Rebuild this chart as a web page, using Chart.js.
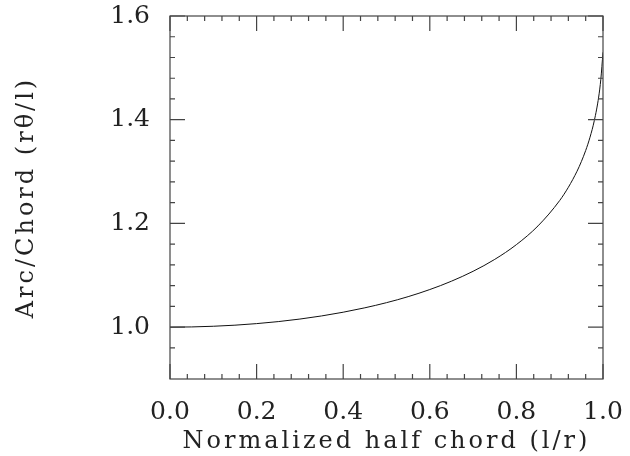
<!DOCTYPE html>
<html>
<head>
<meta charset="utf-8">
<script src="https://cdn.jsdelivr.net/npm/chart.js"></script>
<style>
  html, body { margin: 0; padding: 0; background: #fff; }
  #wrap { width: 630px; height: 456px; }
</style>
</head>
<body>
<div id="wrap"><canvas id="arcChart"></canvas></div>
<script>
// half chord l/r
var halfChord = [0, 0.05, 0.1, 0.15, 0.2, 0.25, 0.3, 0.35, 0.4, 0.45, 0.5, 0.55, 0.6, 0.65,
  0.7, 0.75, 0.8, 0.85, 0.9, 0.92, 0.94, 0.95, 0.96, 0.97, 0.98, 0.99, 0.995, 1.0];
// arc / chord
var arcOverChord = [1.000, 1.0004, 1.0017, 1.0038, 1.0068, 1.0107, 1.0156, 1.0216, 1.0288, 1.0373,
  1.0472, 1.0588, 1.0725, 1.0886, 1.1077, 1.1307, 1.1591, 1.1953, 1.2442, 1.2697, 1.3006,
  1.3192, 1.3406, 1.3662, 1.3985, 1.4437, 1.4781, 1.530];
var xTicks = [0, 0.2, 0.4, 0.6, 0.8, 1.0];
var yTicks = [1.0, 1.2, 1.4, 1.6];
var xMinorStep = 0.04;
var yMinorStep = 0.04;

var points = halfChord.map(function (v, i) { return { x: v, y: arcOverChord[i] }; });

// frame with inward ticks on all four sides
var frameTicks = {
  id: 'frameTicks',
  afterDatasetsDraw: function (chart) {
    var ctx = chart.ctx, a = chart.chartArea, xs = chart.scales.x, ys = chart.scales.y;
    ctx.save();
    ctx.strokeStyle = '#444';
    ctx.lineWidth = 1.2;
    ctx.strokeRect(a.left, a.top, a.right - a.left, a.bottom - a.top);
    ctx.beginPath();
    function xt(v, len) {
      var px = xs.getPixelForValue(v);
      ctx.moveTo(px, a.bottom); ctx.lineTo(px, a.bottom - len);
      ctx.moveTo(px, a.top); ctx.lineTo(px, a.top + len);
    }
    function yt(v, len) {
      var py = ys.getPixelForValue(v);
      ctx.moveTo(a.left, py); ctx.lineTo(a.left + len, py);
      ctx.moveTo(a.right, py); ctx.lineTo(a.right - len, py);
    }
    for (var i = 1; i < 25; i++) xt(i * xMinorStep, 5);
    for (var j = 1; j < 18; j++) yt(0.9 + j * yMinorStep + 0.02, 5);
    xTicks.forEach(function (v) { xt(v, 15); });
    yTicks.forEach(function (v) { yt(v, 15); });
    ctx.stroke();
    ctx.restore();
  }
};

// wider letter spacing for the axis titles
function spacedTitle(s) {
  if (s._spaced) return;
  s._spaced = true;
  var orig = s.drawTitle;
  s.drawTitle = function () {
    var ctx = this.ctx;
    ctx.save();
    ctx.letterSpacing = '3px';
    orig.apply(this, arguments);
    ctx.restore();
  };
}

new Chart(document.getElementById('arcChart'), {
  type: 'line',
  data: {
    datasets: [{
      data: points,
      borderColor: '#111',
      borderWidth: 1,
      pointRadius: 0,
      cubicInterpolationMode: 'monotone',
      fill: false
    }]
  },
  options: {
    responsive: true,
    maintainAspectRatio: false,
    animation: false,
    events: [],
    layout: { padding: { top: 16, right: 27, left: 0, bottom: 0 } },
    plugins: { legend: { display: false }, tooltip: { enabled: false } },
    scales: {
      x: {
        type: 'linear',
        min: 0, max: 1,
        grid: { display: false },
        border: { display: false },
        afterBuildTicks: function (s) { s.ticks = xTicks.map(function (v) { return { value: v }; }); },
        afterFit: function (s) {
          s.height = 77; s.paddingLeft = 0; s.paddingRight = 0;
          spacedTitle(s);
        },
        ticks: {
          padding: 10,
          color: '#222',
          font: { family: "'DejaVu Serif'", size: 25 },
          callback: function (v) { return Number(v).toFixed(1); }
        },
        title: {
          display: true,
          text: 'Normalized half chord (l/r)',
          color: '#222',
          padding: { top: 0, bottom: 0 },
          font: { family: "'DejaVu Serif'", size: 24 }
        }
      },
      y: {
        type: 'linear',
        min: 0.9, max: 1.6,
        grid: { display: false },
        border: { display: false },
        afterBuildTicks: function (s) { s.ticks = yTicks.map(function (v) { return { value: v }; }); },
        afterFit: function (s) {
          s.width = 170; s.paddingTop = 0; s.paddingBottom = 0;
          spacedTitle(s);
        },
        ticks: {
          padding: 12,
          color: '#222',
          font: { family: "'DejaVu Serif'", size: 25 },
          callback: function (v) { return Number(v).toFixed(1); }
        },
        title: {
          display: true,
          text: 'Arc/Chord (rθ/l)',
          color: '#222',
          padding: { top: 12, bottom: 0 },
          font: { family: "'DejaVu Serif'", size: 24 }
        }
      }
    }
  },
  plugins: [frameTicks]
});
</script>
</body>
</html>
